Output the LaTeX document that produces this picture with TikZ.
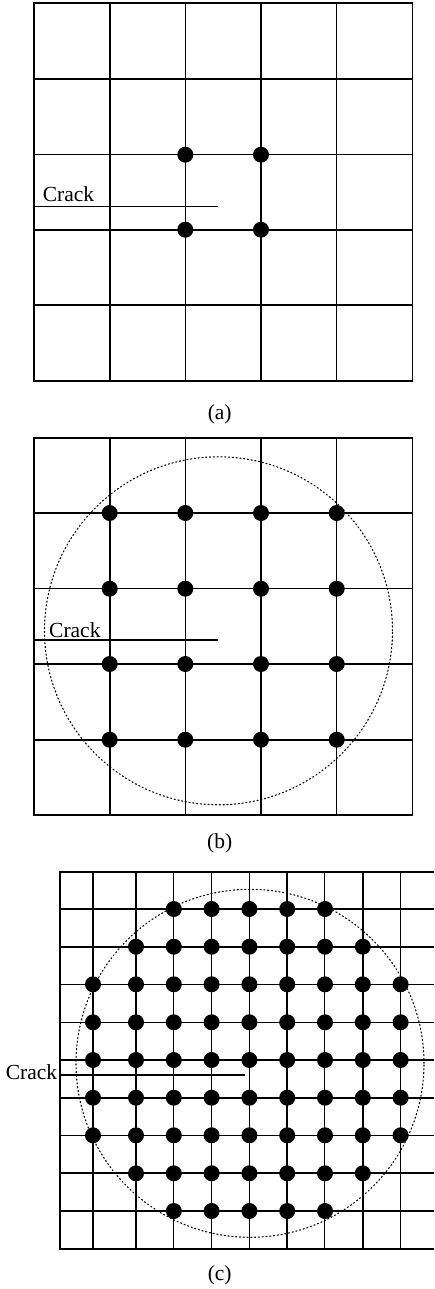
\documentclass[tikz,border=0pt]{standalone}
\usepackage{fontspec}
\setmainfont{Liberation Serif}
\begin{document}
\begin{tikzpicture}[x=1pt,y=-1pt,
  thk/.style={line width=2pt},
  thn/.style={line width=1.4pt},
  bd/.style={line width=1.6pt},
  crk/.style={line width=1.1pt},
  ring/.style={line width=1.1pt, dash pattern=on 1.2pt off 2.6pt, line cap=round},
  dot/.style={circle, fill=black, draw=none, inner sep=0pt, minimum size=16pt},
  lbl/.style={font=\fontsize{21.5}{25}\selectfont, inner sep=0pt}]
\useasboundingbox (0,0) rectangle (434,1289);
\fill[white] (0,0) rectangle (434,1289);

% ---------------- (a) ----------------
\draw[bd] (33.7,3.3) rectangle (412.3,380.7);
\foreach \x/\s in {109.7/thk,185.3/thn,261/thk,336.7/thn}
  \draw[\s] (\x,3.3) -- (\x,380.7);
\foreach \y/\s in {79/thk,154.7/thn,229.7/thk,305.3/thk}
  \draw[\s] (33.7,\y) -- (412.3,\y);
\coordinate (a-cs) at (33.7,206.7);
\coordinate (a-ce) at (218.3,206.7);
\draw[crk] (a-cs) -- (a-ce);
\node[lbl, anchor=base west] (a-crack) at (42.7,201.7) {Crack};
\foreach \x [count=\i] in {185.3,261}
  \foreach \y [count=\j] in {154.7,229.7}
    \node[dot] (a-d\i\j) at (\x,\y) {};
\node[lbl] (a-lbl) at (219.7,414.5) {(a)};

% ---------------- (b) ----------------
\draw[bd] (33.7,437.7) rectangle (412.3,815);
\foreach \x/\s in {109.7/thk,185.3/thn,261/thk,336.7/thn}
  \draw[\s] (\x,437.7) -- (\x,815);
\foreach \y/\s in {513/thk,588.7/thn,664/thk,739.7/thk}
  \draw[\s] (33.7,\y) -- (412.3,\y);
\coordinate (b-c) at (218.5,630.8);
\draw[ring] (b-c) circle[radius=174pt];
\coordinate (b-cs) at (33.7,640);
\coordinate (b-ce) at (218.3,640);
\draw[crk] (b-cs) -- (b-ce);
\node[lbl, anchor=base west] (b-crack) at (49,637.3) {Crack};
\foreach \x [count=\i] in {109.7,185.3,261,336.7}
  \foreach \y [count=\j] in {513,588.7,664,739.7}
    \node[dot] (b-d\i\j) at (\x,\y) {};
\node[lbl] (b-lbl) at (219.7,843) {(b)};

% ---------------- (c) ----------------
\draw[bd] (434,871.7) -- (60,871.7) -- (60,1249) -- (434,1249);
\foreach \x/\s in {93/thn,136/thk,173.7/thn,211.3/thn,249.3/thn,287/thk,324.7/thn,362.7/thk,400.7/thn}
  \draw[\s] (\x,871.7) -- (\x,1249);
\foreach \y/\s in {909/thn,946.7/thk,984.3/thn,1022.3/thn,1060/thn,1097.7/thk,1135.3/thn,1173.3/thk,1211/thn}
  \draw[\s] (60,\y) -- (434,\y);
\coordinate (c-c) at (250,1063.3);
\draw[ring] (c-c) circle[radius=174pt];
\coordinate (c-cs) at (60,1075);
\coordinate (c-ce) at (245,1075);
\draw[crk] (c-cs) -- (c-ce);
\node[lbl, anchor=base east] (c-crack) at (57.3,1079.3) {Crack};
% dots: row y / first col / last col  (cols 0..8)
\foreach \y/\a/\b [count=\r] in {909/2/6,946.7/1/7,984.3/0/8,1022.3/0/8,1060/0/8,1097.7/0/8,1135.3/0/8,1173.3/1/7,1211/2/6}
  \foreach \k in {\a,...,\b}
    \node[dot] (c-d\r-\k) at ({93+(\k==0?0:43+(\k-1)*37.8)},\y) {};
\node[lbl] (c-lbl) at (219.7,1275) {(c)};
\end{tikzpicture}
\end{document}
